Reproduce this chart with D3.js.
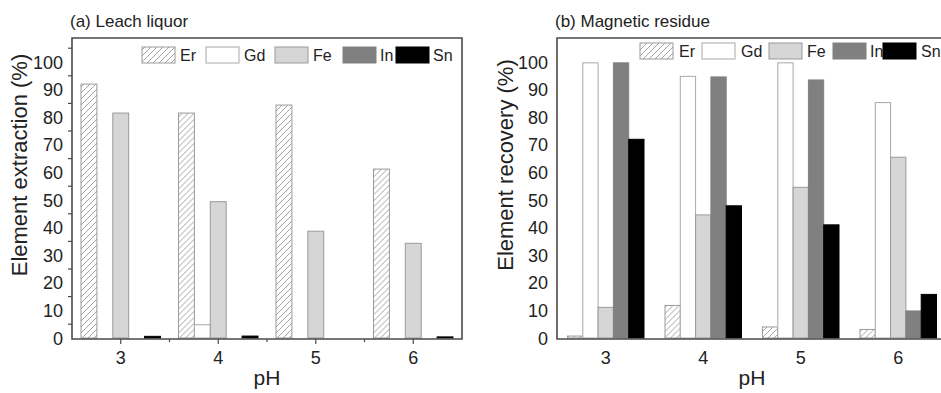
<!DOCTYPE html>
<html>
<head>
<meta charset="utf-8">
<script src="https://cdn.jsdelivr.net/npm/d3@7"></script>
<style>
  body { margin: 0; background: #fff; }
  svg { display: block; font-family: "Liberation Sans", Arial, sans-serif; }
</style>
</head>
<body>
<svg id="chart" width="941" height="393"></svg>
<script>
// categories and series
const phLevels = ['3', '4', '5', '6'];
const elements = ['Er', 'Gd', 'Fe', 'In', 'Sn'];
const yTickLabels = [0, 10, 20, 30, 40, 50, 60, 70, 80, 90, 100];

// (a) Leach liquor, extraction %
const leachEr = [92, 81.5, 84.4, 61.2];
const leachGd = [0, 4.8, 0, 0];
const leachFe = [81.5, 49.4, 38.7, 34.3];
const leachIn = [0, 0, 0, 0];
const leachSn = [0.6, 0.7, 0, 0.4];

// (b) Magnetic residue, recovery %
const residueEr = [0.7, 11.8, 4, 3.1];
const residueGd = [99.7, 94.8, 99.7, 85.3];
const residueFe = [11.1, 44.6, 54.6, 65.5];
const residueIn = [99.7, 94.6, 93.5, 9.8];
const residueSn = [72, 47.9, 41, 15.8];

const fills = {Er: 'url(#hatch)', Gd: '#ffffff', Fe: '#d6d6d6', In: '#808080', Sn: '#000000'};
const strokes = {Er: '#9a9a9a', Gd: '#a8a8a8', Fe: '#9a9a9a', In: '#808080', Sn: '#000000'};

const svg = d3.select('#chart');

const defs = svg.append('defs');
const pat = defs.append('pattern')
    .attr('id', 'hatch')
    .attr('patternUnits', 'userSpaceOnUse')
    .attr('width', 6).attr('height', 6);
pat.append('rect').attr('width', 6).attr('height', 6).attr('fill', '#fff');
pat.append('path')
    .attr('d', 'M-1,1 l2,-2 M0,6 l6,-6 M5,7 l2,-2')
    .attr('stroke', '#9a9a9a').attr('stroke-width', 0.9);

function drawPanel(cfg) {
    const rows = phLevels.map((p, i) => {
        const r = {ph: p};
        elements.forEach((e, j) => r[e] = cfg.values[j][i]);
        return r;
    });

    const x0 = d3.scaleBand().domain(phLevels).range([cfg.left, cfg.left + 390]);
    const bw = x0.bandwidth();
    const x1 = d3.scaleBand().domain(elements).range([cfg.inset, bw - cfg.inset]);
    const y = d3.scaleLinear().domain([0, 108.7]).range([338, 38]);

    const g = svg.append('g');

    // bars
    g.selectAll('g.grp')
        .data(rows)
        .enter().append('g')
        .attr('transform', d => `translate(${x0(d.ph)},0)`)
        .selectAll('rect')
        .data(d => elements.map(e => ({key: e, value: d[e]})).filter(v => v.value > 0))
        .enter().append('rect')
        .attr('x', d => x1(d.key))
        .attr('width', x1.bandwidth())
        .attr('y', d => y(d.value))
        .attr('height', d => y(0) - y(d.value))
        .attr('fill', d => fills[d.key])
        .attr('stroke', d => strokes[d.key])
        .attr('stroke-width', 1);

    // frame
    const right = cfg.left + 390;
    const frame = g.append('path')
        .attr('fill', 'none')
        .attr('stroke', '#4a4a4a')
        .attr('stroke-width', 1.6);
    if (cfg.closed) {
        frame.attr('d', `M${cfg.left},38 H${right} V339 H${cfg.left} Z`);
    } else {
        frame.attr('d', `M${right},38 H${cfg.left} V339 H${right}`);
    }

    // y ticks (minor ones only are visible in the source)
    if (cfg.ticks) {
        g.selectAll('line.ytk')
            .data(d3.range(5, 106, 10))
            .enter().append('line')
            .attr('x1', cfg.left - 4).attr('x2', cfg.left)
            .attr('y1', d => y(d)).attr('y2', d => y(d))
            .attr('stroke', '#4a4a4a').attr('stroke-width', 1.2);
        g.selectAll('line.xtk')
            .data(phLevels)
            .enter().append('line')
            .attr('x1', d => x0(d) + bw / 2).attr('x2', d => x0(d) + bw / 2)
            .attr('y1', 339).attr('y2', 344)
            .attr('stroke', '#4a4a4a').attr('stroke-width', 1.2);
        g.selectAll('line.xtk2')
            .data(phLevels.slice(1))
            .enter().append('line')
            .attr('x1', d => x0(d)).attr('x2', d => x0(d))
            .attr('y1', 339).attr('y2', 342)
            .attr('stroke', '#4a4a4a').attr('stroke-width', 1.2);
    }

    // y tick labels
    g.selectAll('text.ylab')
        .data(yTickLabels)
        .enter().append('text')
        .attr('x', cfg.left - 9)
        .attr('y', d => y(d) + 6.5)
        .attr('text-anchor', 'end')
        .attr('font-size', 18)
        .attr('fill', '#222')
        .text(d => d);

    // x tick labels
    g.selectAll('text.xlab')
        .data(phLevels)
        .enter().append('text')
        .attr('x', d => x0(d) + bw / 2)
        .attr('y', 364)
        .attr('text-anchor', 'middle')
        .attr('font-size', 18)
        .attr('fill', '#222')
        .text(d => d);

    // axis titles
    g.append('text')
        .attr('x', x0('4') + bw)
        .attr('y', 385)
        .attr('text-anchor', 'middle')
        .attr('font-size', 21)
        .attr('fill', '#222')
        .text('pH');

    g.append('text')
        .attr('transform', `translate(${cfg.ylabelX},165) rotate(-90)`)
        .attr('text-anchor', 'middle')
        .attr('font-size', 22)
        .attr('fill', '#222')
        .text(cfg.ylabel);

    g.append('text')
        .attr('x', cfg.left - 2)
        .attr('y', 27)
        .attr('font-size', 17)
        .attr('fill', '#222')
        .text(cfg.title);

    // legend
    const leg = g.selectAll('g.leg')
        .data(elements)
        .enter().append('g');
    leg.append('rect')
        .attr('x', (d, i) => cfg.legendX[i])
        .attr('y', cfg.legendY)
        .attr('width', 33)
        .attr('height', 16)
        .attr('fill', d => fills[d])
        .attr('stroke', d => strokes[d])
        .attr('stroke-width', 1);
    leg.append('text')
        .attr('x', (d, i) => cfg.legendX[i] + cfg.labelGap[i])
        .attr('y', cfg.legendY + 14)
        .attr('font-size', 16)
        .attr('fill', '#222')
        .text(d => d);
}

drawPanel({
    left: 72, inset: 9, closed: true, ticks: true,
    values: [leachEr, leachGd, leachFe, leachIn, leachSn],
    title: '(a) Leach liquor',
    ylabel: 'Element extraction (%)', ylabelX: 27,
    legendX: [142, 206, 275, 343, 396], legendY: 47,
    labelGap: [38, 38, 38, 37, 37]
});

drawPanel({
    left: 557, inset: 10.5, closed: false, ticks: false,
    values: [residueEr, residueGd, residueFe, residueIn, residueSn],
    title: '(b) Magnetic residue',
    ylabel: 'Element recovery (%)', ylabelX: 513,
    legendX: [640, 702, 769, 833, 883], legendY: 43,
    labelGap: [39, 39, 38, 37, 38]
});
</script>
</body>
</html>
